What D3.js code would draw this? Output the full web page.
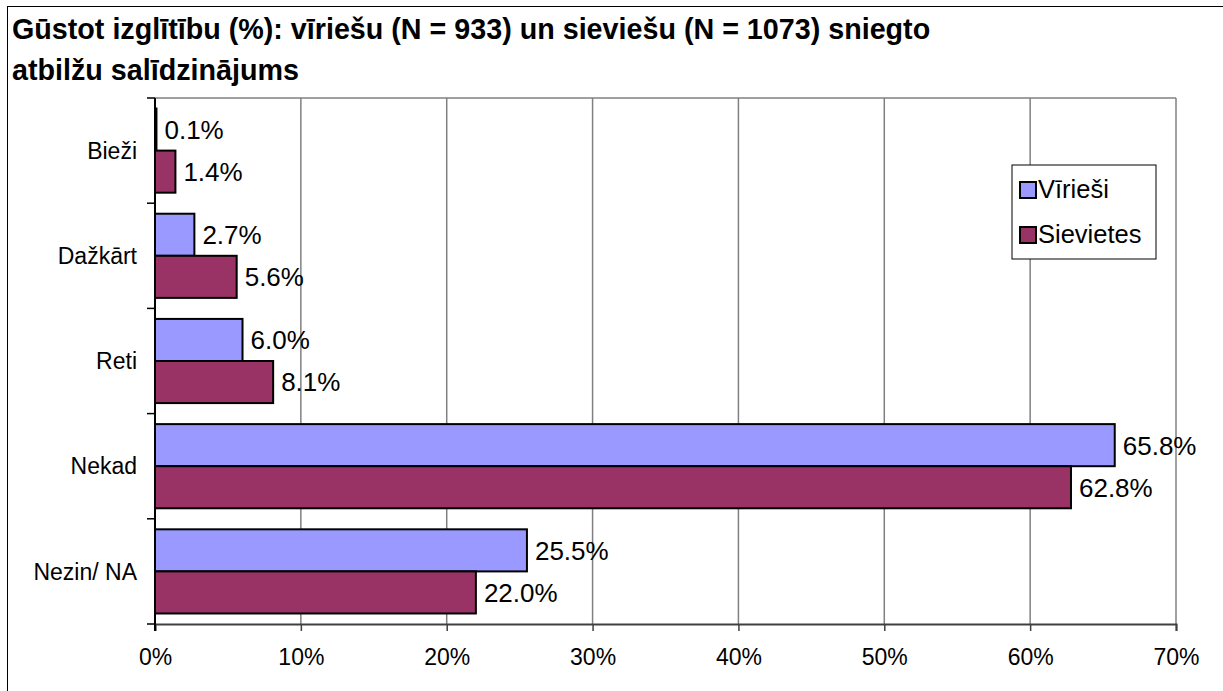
<!DOCTYPE html>
<html>
<head>
<meta charset="utf-8">
<script src="https://cdn.jsdelivr.net/npm/d3@7"></script>
<style>
  body { margin: 0; background: #fff; }
  text { font-family: "Liberation Sans", Arial, sans-serif; }
</style>
</head>
<body>
<div id="chart"></div>
<script>
var categories = ["Bieži", "Dažkārt", "Reti", "Nekad", "Nezin/ NA"];
var seriesNames = ["Vīrieši", "Sievietes"];
var viriesi = [0.1, 2.7, 6.0, 65.8, 25.5];
var sievietes = [1.4, 5.6, 8.1, 62.8, 22.0];
var xTicks = [0, 10, 20, 30, 40, 50, 60, 70];
var colors = ["#9999ff", "#993366"];

var W = 1223, H = 691;
var plot = {left: 155, right: 1176, top: 98, bottom: 624};

var svg = d3.select("#chart").append("svg")
    .attr("width", W)
    .attr("height", H);

// outer frame (right/bottom edges fall outside the picture)
svg.append("rect")
    .attr("x", 7.5).attr("y", 6.5)
    .attr("width", W).attr("height", H)
    .attr("fill", "none").attr("stroke", "#000").attr("stroke-width", 1);

// title
var title = svg.append("text")
    .attr("font-size", "28.7px")
    .attr("font-weight", "bold")
    .attr("fill", "#000");
title.append("tspan").attr("x", 12).attr("y", 39)
    .text("Gūstot izglītību (%): vīriešu (N = 933) un sieviešu (N = 1073) sniegto");
title.append("tspan").attr("x", 12).attr("y", 80)
    .text("atbilžu salīdzinājums");

var x = d3.scaleLinear()
    .domain([0, 70])
    .range([plot.left, plot.right]);

var y = d3.scaleBand()
    .domain(categories)
    .range([plot.top, plot.bottom])
    .paddingInner(0.2)
    .paddingOuter(0.1);

var ySub = d3.scaleBand()
    .domain(seriesNames)
    .range([0, y.bandwidth()]);

// grid lines
svg.append("g")
    .selectAll("line")
    .data(xTicks.slice(1))
    .enter()
    .append("line")
    .attr("x1", function (d) { return x(d); })
    .attr("x2", function (d) { return x(d); })
    .attr("y1", plot.top)
    .attr("y2", plot.bottom)
    .attr("stroke", "#808080")
    .attr("stroke-width", 1.5);

svg.append("line")
    .attr("x1", plot.left).attr("x2", plot.right)
    .attr("y1", plot.top).attr("y2", plot.top)
    .attr("stroke", "#808080").attr("stroke-width", 1.5);

// bars
var rows = categories.map(function (c, i) {
    return {cat: c, values: [viriesi[i], sievietes[i]]};
});

var groups = svg.append("g")
    .selectAll("g")
    .data(rows)
    .enter()
    .append("g")
    .attr("transform", function (d) { return "translate(0," + y(d.cat) + ")"; });

groups.selectAll("rect")
    .data(function (d) { return d.values.map(function (v, j) { return {s: seriesNames[j], v: v, j: j}; }); })
    .enter()
    .append("rect")
    .attr("x", x(0))
    .attr("y", function (d) { return ySub(d.s); })
    .attr("width", function (d) { return x(d.v) - x(0); })
    .attr("height", ySub.bandwidth())
    .attr("fill", function (d) { return colors[d.j]; })
    .attr("stroke", "#000")
    .attr("stroke-width", 2);

groups.selectAll("text")
    .data(function (d) { return d.values.map(function (v, j) { return {s: seriesNames[j], v: v}; }); })
    .enter()
    .append("text")
    .attr("x", function (d) { return x(d.v) + 8; })
    .attr("y", function (d) { return ySub(d.s) + ySub.bandwidth() / 2; })
    .attr("dy", "0.36em")
    .attr("font-size", "26px")
    .attr("fill", "#000")
    .text(function (d) { return d.v.toFixed(1) + "%"; });

// axes
var xAxis = d3.axisBottom(x)
    .tickValues(xTicks)
    .tickSize(7)
    .tickFormat(function (d) { return d + "%"; });

var xg = svg.append("g")
    .attr("transform", "translate(0," + plot.bottom + ")")
    .call(xAxis);
xg.select(".domain").attr("stroke", "#404040").attr("stroke-width", 2);
xg.selectAll(".tick line").attr("stroke", "#404040").attr("stroke-width", 1.5);
xg.selectAll("text")
    .attr("font-family", "Liberation Sans, Arial, sans-serif")
    .attr("font-size", "23px")
    .attr("fill", "#000")
    .attr("y", 25)
    .attr("dy", "0.71em");

var yg = svg.append("g")
    .attr("transform", "translate(" + plot.left + ",0)");

yg.append("line")
    .attr("x1", 0).attr("x2", 0)
    .attr("y1", plot.top).attr("y2", plot.bottom + 7)
    .attr("stroke", "#000").attr("stroke-width", 2);

var bounds = [plot.top].concat(categories.map(function (c) { return y(c) + y.bandwidth() + y.step() * 0.1; }));
yg.selectAll(".cut")
    .data(bounds)
    .enter()
    .append("line")
    .attr("class", "cut")
    .attr("x1", -8).attr("x2", 0)
    .attr("y1", function (d) { return d; })
    .attr("y2", function (d) { return d; })
    .attr("stroke", "#000").attr("stroke-width", 1.5);

yg.selectAll(".lbl")
    .data(categories)
    .enter()
    .append("text")
    .attr("class", "lbl")
    .attr("x", -18)
    .attr("y", function (d) { return y(d) + y.bandwidth() / 2; })
    .attr("dy", "0.36em")
    .attr("text-anchor", "end")
    .attr("font-size", "23px")
    .attr("fill", "#000")
    .text(function (d) { return d; });

// legend
var lg = svg.append("g").attr("transform", "translate(1012,165)");
lg.append("rect")
    .attr("width", 144).attr("height", 94)
    .attr("fill", "#fff").attr("stroke", "#000").attr("stroke-width", 1);

var items = lg.selectAll(".item")
    .data(seriesNames)
    .enter()
    .append("g")
    .attr("class", "item")
    .attr("transform", function (d, i) { return "translate(8," + (17 + i * 45) + ")"; });

items.append("rect")
    .attr("width", 16).attr("height", 16)
    .attr("fill", function (d, i) { return colors[i]; })
    .attr("stroke", "#000").attr("stroke-width", 2);

items.append("text")
    .attr("x", 18)
    .attr("y", 16)
    .attr("font-size", "25.5px")
    .attr("fill", "#000")
    .text(function (d) { return d; });
</script>
</body>
</html>
